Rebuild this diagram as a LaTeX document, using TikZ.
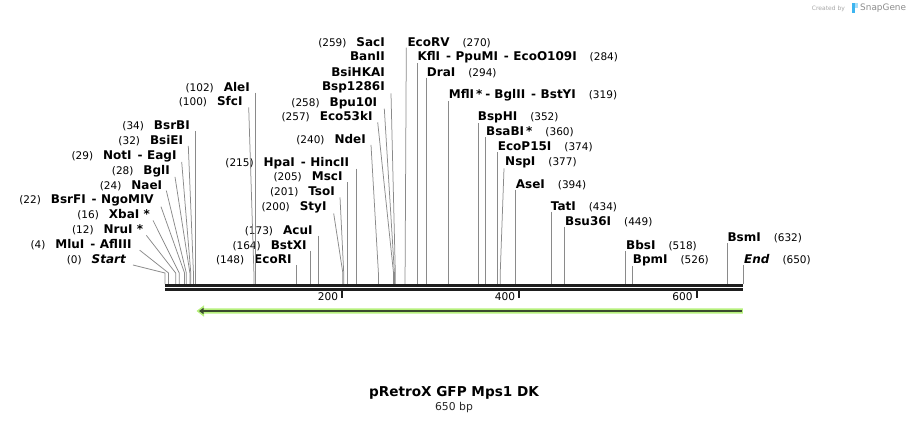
\documentclass[tikz,border=0pt]{standalone}
\usepackage{fontspec}
\setmainfont{DejaVu Sans}
\usetikzlibrary{arrows.meta}

\definecolor{cutgray}{HTML}{8A8A8A}
\definecolor{seqblack}{HTML}{1E1E1E}
\definecolor{featgreen}{HTML}{B6F07C}
\definecolor{featdark}{HTML}{3A4A2E}
\definecolor{snapblue}{HTML}{3DB5F0}

\newcommand{\enz}[1]{{\fontsize{12}{14}\selectfont\bfseries #1}}
\newcommand{\bpos}[1]{{\fontsize{10.5}{12}\selectfont (#1)}}
\newcommand{\dsh}{\hspace{6pt}-\hspace{4.5pt}}

\tikzset{
  lab/.style={inner sep=0pt, text=black},
  lleft/.style={lab, anchor=base east},
  lright/.style={lab, anchor=base west},
  cut/.style={draw=cutgray, line width=0.75pt},
}

\begin{document}
\begin{tikzpicture}[x=1pt, y=-1pt]
\useasboundingbox (0,0) rectangle (909,423);

% cut sites on the sequence
\foreach \p in {0,4,12,16,22,24,28,29,32,34,100,102,148,164,173,200,201,205,215,240,257,258,259,270,284,294,319,352,360,374,377,394,434,449,518,526,632,650}
  \coordinate (s\p) at ({165+0.8892*\p},284);
\coordinate (k) at (0,273);

% left column
\node[lleft] (nBsrBI) at (190,129.3) {\bpos{34}\hspace{10pt}\enz{BsrBI}};
\node[lleft] (nBsiEI) at (183.3,144.3) {\bpos{32}\hspace{10pt}\enz{BsiEI}};
\node[lleft] (nNotI) at (176.7,159.2) {\bpos{29}\hspace{10pt}\enz{NotI\dsh EagI}};
\node[lleft] (nBglI) at (170,174.1) {\bpos{28}\hspace{10pt}\enz{BglI}};
\node[lleft] (nNaeI) at (162.3,189) {\bpos{24}\hspace{10pt}\enz{NaeI}};
\node[lleft] (nBsrFI) at (154,203.9) {\bpos{22}\hspace{10pt}\enz{BsrFI\dsh NgoMIV}};
\node[lleft] (nXbaI) at (150,218.8) {\bpos{16}\hspace{10pt}\enz{XbaI *}};
\node[lleft] (nNruI) at (143.3,233.7) {\bpos{12}\hspace{10pt}\enz{NruI *}};
\node[lleft] (nMluI) at (131.7,248.6) {\bpos{4}\hspace{10pt}\enz{MluI\dsh AflIII}};
\node[lleft] (nStart) at (126,263.4) {\bpos{0}\hspace{10pt}\enz{\itshape Start}};

\draw[cut] (s34 |- nBsrBI.south) -- (s34);
\draw[cut] ([xshift=5pt]nBsiEI.south east) -- (s32 |- k) -- (s32);
\draw[cut] ([xshift=5pt]nNotI.south east) -- (s29 |- k) -- (s29);
\draw[cut] ([xshift=5pt]nBglI.south east) -- (s28 |- k) -- (s28);
\draw[cut] ([xshift=4pt]nNaeI.south east) -- (s24 |- k) -- (s24);
\draw[cut] ([xshift=7pt]nBsrFI.south east) -- (s22 |- k) -- (s22);
\draw[cut] ([xshift=3pt]nXbaI.south east) -- (s16 |- k) -- (s16);
\draw[cut] ([xshift=3pt]nNruI.south east) -- (s12 |- k) -- (s12);
\draw[cut] ([xshift=8pt]nMluI.south east) -- (s4 |- k) -- (s4);
\draw[cut] ([xshift=7pt]nStart.south east) -- (s0 |- k) -- (s0);

% middle, labels left of the site
\node[lleft] (nAleI) at (250,91) {\bpos{102}\hspace{10pt}\enz{AleI}};
\node[lleft] (nSfcI) at (242.7,105.7) {\bpos{100}\hspace{10pt}\enz{SfcI}};
\node[lleft] (nSacI) at (385,46) {\bpos{259}\hspace{10pt}\enz{SacI}};
\node[lleft] (nBanII) at (385,60.7) {\enz{BanII}};
\node[lleft] (nBsiHKAI) at (385,76) {\enz{BsiHKAI}};
\node[lleft] (nBsp1286I) at (385,90.7) {\enz{Bsp1286I}};
\node[lleft] (nBpu10I) at (377.3,106) {\bpos{258}\hspace{10pt}\enz{Bpu10I}};
\node[lleft] (nEco53kI) at (372.7,120.7) {\bpos{257}\hspace{10pt}\enz{Eco53kI}};
\node[lleft] (nNdeI) at (366,143.3) {\bpos{240}\hspace{10pt}\enz{NdeI}};
\node[lleft] (nHpaI) at (349.3,166) {\bpos{215}\hspace{10pt}\enz{HpaI\dsh HincII}};
\node[lleft] (nMscI) at (342.7,180.7) {\bpos{205}\hspace{10pt}\enz{MscI}};
\node[lleft] (nTsoI) at (335,195.7) {\bpos{201}\hspace{10pt}\enz{TsoI}};
\node[lleft] (nStyI) at (326.7,210.7) {\bpos{200}\hspace{10pt}\enz{StyI}};
\node[lleft] (nAcuI) at (312.7,234) {\bpos{173}\hspace{10pt}\enz{AcuI}};
\node[lleft] (nBstXI) at (306.7,249) {\bpos{164}\hspace{10pt}\enz{BstXI}};
\node[lleft] (nEcoRI) at (291.7,263.3) {\bpos{148}\hspace{10pt}\enz{EcoRI}};

\draw[cut] (s102 |- nAleI.south) -- (s102);
\draw[cut] ([xshift=6pt]nSfcI.south east) -- (s100 |- k) -- (s100);
\draw[cut] ([xshift=6pt]nBsp1286I.south east) -- (s259 |- k) -- (s259);
\draw[cut] ([xshift=7pt]nBpu10I.south east) -- (s258 |- k) -- (s258);
\draw[cut] ([xshift=5pt]nEco53kI.south east) -- (s257 |- k) -- (s257);
\draw[cut] ([xshift=5pt]nNdeI.south east) -- (s240 |- k) -- (s240);
\draw[cut] (s215 |- nHpaI.south) -- (s215);
\draw[cut] (s205 |- nMscI.south) -- (s205);
\draw[cut] ([xshift=5pt]nTsoI.south east) -- (s201 |- k) -- (s201);
\draw[cut] ([xshift=7pt]nStyI.south east) -- (s200 |- k) -- (s200);
\draw[cut] (s173 |- nAcuI.south) -- (s173);
\draw[cut] (s164 |- nBstXI.south) -- (s164);
\draw[cut] (s148 |- nEcoRI.south) -- (s148);

% right, labels right of the site
\node[lright] (nEcoRV) at (407.3,46) {\enz{EcoRV}\hspace{13pt}\bpos{270}};
\node[lright] (nKflI) at (417.3,60.7) {\enz{KflI\dsh PpuMI\dsh EcoO109I}\hspace{13pt}\bpos{284}};
\node[lright] (nDraI) at (426.7,76) {\enz{DraI}\hspace{13pt}\bpos{294}};
\node[lright] (nMflI) at (448.7,98.3) {\enz{MflI\,*\hspace{3pt}-\hspace{4pt}BglII\dsh BstYI}\hspace{13pt}\bpos{319}};
\node[lright] (nBspHI) at (477.7,120.7) {\enz{BspHI}\hspace{13pt}\bpos{352}};
\node[lright] (nBsaBI) at (486,135.7) {\enz{BsaBI\,*}\hspace{13pt}\bpos{360}};
\node[lright] (nEcoP15I) at (497.7,150.7) {\enz{EcoP15I}\hspace{13pt}\bpos{374}};
\node[lright] (nNspI) at (505,165.7) {\enz{NspI}\hspace{13pt}\bpos{377}};
\node[lright] (nAseI) at (515.7,188) {\enz{AseI}\hspace{13pt}\bpos{394}};
\node[lright] (nTatI) at (550.7,210) {\enz{TatI}\hspace{13pt}\bpos{434}};
\node[lright] (nBsu36I) at (565,225) {\enz{Bsu36I}\hspace{13pt}\bpos{449}};
\node[lright] (nBbsI) at (626,249.3) {\enz{BbsI}\hspace{13pt}\bpos{518}};
\node[lright] (nBpmI) at (632.7,263.3) {\enz{BpmI}\hspace{13pt}\bpos{526}};
\node[lright] (nBsmI) at (727.3,241.7) {\enz{BsmI}\hspace{13pt}\bpos{632}};
\node[lright] (nEnd) at (744,263.3) {\enz{\itshape End}\hspace{13pt}\bpos{650}};

\draw[cut] ([xshift=-1pt]nEcoRV.south west) -- (s270 |- k) -- (s270);
\draw[cut] (s284 |- nKflI.south) -- (s284);
\draw[cut] (s294 |- nDraI.south) -- (s294);
\draw[cut] (s319 |- nMflI.south) -- (s319);
\draw[cut] (s352 |- nBspHI.south) -- (s352);
\draw[cut] (s360 |- nBsaBI.south) -- (s360);
\draw[cut] (s374 |- nEcoP15I.south) -- (s374);
\draw[cut] ([xshift=-1pt]nNspI.south west) -- (s377 |- k) -- (s377);
\draw[cut] (s394 |- nAseI.south) -- (s394);
\draw[cut] (s434 |- nTatI.south) -- (s434);
\draw[cut] (s449 |- nBsu36I.south) -- (s449);
\draw[cut] (s518 |- nBbsI.south) -- (s518);
\draw[cut] (s526 |- nBpmI.south) -- (s526);
\draw[cut] (s632 |- nBsmI.south) -- (s632);
\draw[cut] (s650 |- nEnd.south) -- (s650);

% sequence
\draw[seqblack, line width=2.6pt] (165,285.4) -- (743.3,285.4);
\draw[seqblack, line width=2.6pt] (165,289.6) -- (743.3,289.6);
\foreach \t/\x in {200/342.3,400/519.2,600/696.8} {
  \draw[seqblack, line width=1.8pt] (\x,290.5) -- (\x,297.7);
  \node[lab, anchor=base east, font=\fontsize{10.6}{12}\selectfont] (t\t) at (\x-4,300.7) {\t};
}

% feature
\fill[featgreen] (742.8,308.3) -- (204,308.3) -- (204,305.3) -- (196.5,311) -- (204,316.7) -- (204,313.7) -- (742.8,313.7) -- cycle;
\draw[featdark, line width=1.8pt, -{Triangle[length=4.5pt,width=6pt]}] (741.5,311) -- (199,311);

% title
\node[lab, anchor=base, font=\fontsize{13.6}{16}\selectfont\bfseries] (title) at (454,396.7) {pRetroX GFP Mps1 DK};
\node[lab, anchor=base, font=\fontsize{10.8}{13}\selectfont, text=black!85] (len) at (454,410.2) {650 bp};

% credit
\node[lab, anchor=base west, font=\fontsize{6}{7}\selectfont, text=black!35] (cred) at (811.7,10) {Created by};
\fill[snapblue] (852,3) rectangle (855,12.5);
\fill[snapblue!45] (855,3) rectangle (858.3,7.5);
\node[lab, anchor=base west, font=\fontsize{8.9}{10}\selectfont, text=black!45] (snap) at (860,10.5) {SnapGene};
\end{tikzpicture}
\end{document}
